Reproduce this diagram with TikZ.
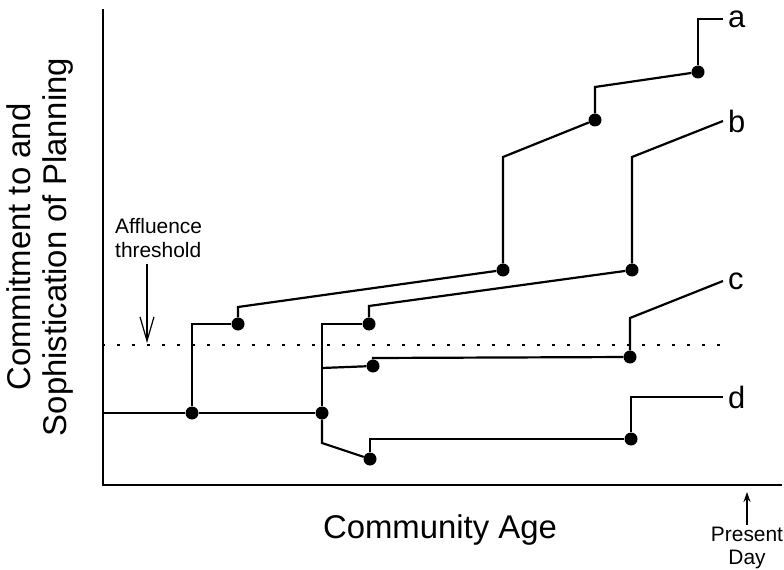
\documentclass[tikz,border=0pt]{standalone}
\usepackage{fontspec}
\setmainfont{Liberation Sans}
\usetikzlibrary{
	arrows.meta
}
\tikzset{
	event/.style={
		circle,
		fill=black,
		inner sep=0pt,
		minimum size=13bp
	},
	lineage/.style={
		line width=2.2bp
	},
	tag/.style={
		right,
		inner sep=5bp,
		font=\fontsize{31}{31}\selectfont
	},
	axislabel/.style={
		font=\fontsize{33}{36}\selectfont,
		align=center
	},
	note/.style={
		font=\fontsize{21}{24}\selectfont,
		inner sep=0pt
	}
}

\begin{document}
\begin{tikzpicture}[ %%%%%%%% PLANNING LINEAGES
		x=1bp,
		y=-1bp
	]
	\useasboundingbox (0,0) rectangle (784,570);
	\draw[line width=2.6bp] (103,9) |- (782,485);
	\draw[line width=2.8bp, dash pattern=on 2.8bp off 12.2bp] (102,345) -- (722,345);
	\foreach \n/\x/\y in {r1/192/413, r2/322/413, a1/238/324, a2/503/270, a3/595/120, a4/698/72,
		b1/369/324, b2/632/270, c1/373/366, c2/630/357, d1/370/459, d2/631/439}
		\node[event] (\n) at (\x,\y) {};
	\coordinate (start) at (103,413);
	\coordinate (aend) at (723,19);
	\coordinate (bend) at (723,121);
	\coordinate (cend) at (723,281);
	\coordinate (dend) at (723,397);
	\coordinate (thr) at (147,343);
	\coordinate (today) at (747,492);
	\draw[lineage] (start) -- (r1) -- (r2);
	\draw[lineage] (r1) |- (a1);
	\draw[lineage] (a1) -- ++(0,-17) -- (a2);
	\draw[lineage] (a2) -- ++(0,-113) -- (a3);
	\draw[lineage] (a3) -- ++(0,-33) -- (a4);
	\draw[lineage] (a4) |- (aend);
	\draw[lineage] (r2) |- (b1);
	\draw[lineage] (b1) -- ++(0,-18) -- (b2);
	\draw[lineage] (b2) -- ++(0,-113) -- (bend);
	\draw[lineage] (r2) ++(0,-45) -- (c1);
	\draw[lineage] (c1) -- ++(0,-8) -- (c2);
	\draw[lineage] (c2) -- ++(0,-39) -- (cend);
	\draw[lineage] (r2) -- ++(0,30) -- (d1);
	\draw[lineage] (d1) |- (d2);
	\draw[lineage] (d2) |- (dend);
	\node[tag] (la) at (aend) {a};
	\node[tag] (lb) at (bend) {b};
	\node[tag] (lc) at (cend) {c};
	\node[tag] (ld) at (dend) {d};
	% labels
	\node[axislabel, rotate=90] (ylabel) at (40,247) {Commitment to and\\Sophistication of Planning};
	\node[axislabel, anchor=base] (xlabel) at (440,538) {Community Age};
	\node[note, align=left, anchor=north west] (aff) at (115,218) {Affluence\\threshold};
	\draw[line width=1.2bp, -{Straight Barb[length=24bp,width=14bp]}] (aff.south -| thr) ++(0,6) -- (thr);
	\node[note, align=center, font=\fontsize{21}{23}\selectfont] (present) at (747,548) {Present\\Day};
	\draw[line width=2bp, -{Stealth[length=10bp,width=7bp]}] ([yshift=2bp]present.north) -- (today);
\end{tikzpicture}
\end{document}
